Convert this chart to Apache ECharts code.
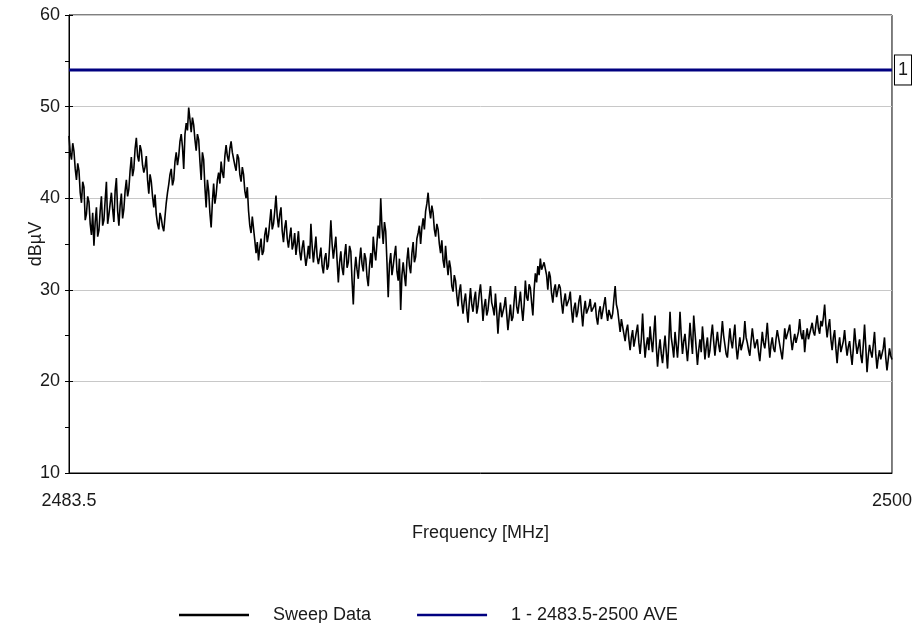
<!DOCTYPE html>
<html>
<head>
<meta charset="utf-8">
<script src="https://cdn.jsdelivr.net/npm/echarts@6/dist/echarts.min.js"></script>
<style>
  html, body { margin: 0; padding: 0; background: #fff; }
  #chart { width: 915px; height: 623px; }
</style>
</head>
<body>
<div id="chart"></div>
<script>
// Sweep from 2483.5 MHz to 2500 MHz, one reading every 0.025 MHz
const freqStart = 2483.5;
const freqEnd = 2500;
const freqStep = 0.025;

// Measured level, dBµV
const sweepLevels = [
  46.8, 45.0, 44.2, 46.0, 45.1, 43.2, 42.0, 43.8, 43.0, 40.6, 39.5, 41.8, 41.2, 37.6, 38.3, 40.2, 39.6, 37.2, 36.0, 38.4,
  34.8, 37.4, 39.0, 35.8, 36.5, 38.6, 40.2, 37.0, 37.6, 39.8, 41.8, 37.2, 38.2, 39.4, 40.6, 38.8, 37.4, 40.8, 42.2, 38.6,
  37.0, 39.2, 40.5, 37.8, 38.8, 40.8, 42.0, 40.2, 41.0, 43.0, 44.5, 42.4, 43.2, 45.4, 46.6, 44.6, 44.0, 45.8, 45.2, 43.6,
  42.8, 43.4, 44.6, 42.0, 40.5, 42.6, 41.8, 40.2, 39.0, 40.4, 38.2, 37.2, 36.6, 38.4, 37.8, 36.9, 36.4, 38.0, 39.5, 40.6,
  41.5, 42.6, 43.2, 41.4, 42.0, 44.0, 45.0, 43.6, 44.6, 46.2, 47.0, 45.6, 43.2, 47.0, 48.2, 47.4, 49.9, 48.6, 47.2, 48.8,
  48.0, 46.4, 45.2, 47.0, 46.4, 44.0, 42.0, 45.0, 44.2, 41.2, 39.0, 42.0, 40.8, 38.4, 36.8, 39.6, 41.6, 39.4, 40.4, 42.0,
  42.8, 41.6, 44.0, 42.8, 42.2, 44.6, 45.8, 44.6, 44.0, 45.4, 46.2, 45.0, 44.8, 43.6, 43.0, 44.8, 44.4, 42.6, 41.8, 43.4,
  42.6, 40.8, 40.0, 41.2, 38.6, 37.0, 36.2, 38.0, 37.8, 35.4, 34.0, 35.2, 33.2, 34.6, 35.6, 33.8, 34.2, 36.0, 36.8, 35.2,
  36.0, 37.4, 38.8, 36.6, 37.2, 38.6, 40.3, 38.0, 36.8, 38.2, 39.0, 36.4, 35.2, 36.8, 37.6, 35.6, 34.6, 35.8, 36.8, 34.4,
  35.0, 36.2, 33.8, 35.0, 36.4, 34.2, 33.2, 34.6, 35.4, 33.8, 32.6, 33.6, 34.8, 33.4, 37.2, 34.8, 33.0, 34.4, 35.8, 33.6,
  32.8, 33.6, 34.6, 32.6, 31.8, 33.4, 34.0, 32.2, 32.6, 34.8, 37.6, 35.0, 33.4, 34.6, 35.8, 33.2, 30.8, 33.0, 34.2, 32.4,
  31.6, 33.8, 35.0, 32.4, 33.0, 34.8, 34.2, 31.0, 28.4, 32.0, 33.6, 32.2, 31.2, 33.2, 34.6, 32.8, 32.0, 34.0, 33.4, 31.4,
  30.4, 32.6, 34.0, 32.4, 35.8, 34.2, 33.2, 35.2, 37.0, 35.6, 40.0, 36.8, 35.0, 37.4, 36.4, 33.0, 29.2, 32.8, 34.0, 31.6,
  32.6, 33.8, 34.8, 32.0, 31.0, 33.4, 27.8, 31.6, 33.0, 31.6, 30.4, 33.2, 34.6, 32.6, 31.8, 34.0, 35.2, 33.0, 33.6, 35.6,
  36.2, 37.0, 35.0, 36.8, 37.8, 36.6, 38.6, 39.4, 40.6, 38.8, 37.8, 39.2, 38.4, 36.6, 35.8, 37.2, 36.6, 35.0, 34.0, 35.4,
  33.2, 32.4, 34.8, 33.0, 31.6, 33.2, 32.4, 30.4, 29.8, 31.6, 31.0, 29.4, 28.2, 29.8, 30.6, 28.6, 27.4, 28.8, 29.6, 27.8,
  26.4, 28.6, 30.2, 28.4, 27.6, 29.0, 29.8, 27.4, 28.2, 29.6, 30.6, 28.8, 26.6, 28.2, 29.0, 27.2, 27.8, 29.2, 30.4, 28.6,
  28.0, 27.2, 29.6, 27.6, 25.2, 27.4, 28.6, 27.0, 26.8, 28.2, 29.2, 27.4, 25.6, 27.0, 28.4, 26.6, 27.0, 28.8, 30.4, 28.2,
  27.4, 28.6, 29.8, 28.0, 26.6, 28.4, 31.0, 29.2, 28.8, 30.6, 30.2, 28.6, 27.2, 30.0, 31.8, 30.8, 32.6, 31.6, 33.4, 32.2,
  32.4, 33.0, 33.2, 31.6, 30.0, 32.0, 31.4, 29.6, 28.6, 30.0, 30.6, 29.2, 29.0, 30.6, 30.2, 28.6, 27.4, 28.8, 29.6, 28.2,
  28.0, 29.0, 29.8, 27.8, 26.4, 28.0, 28.6, 27.0, 27.6, 28.8, 29.4, 27.6, 26.0, 27.8, 28.8, 27.4, 27.2, 28.2, 29.0, 27.6,
  27.4, 28.2, 28.6, 27.0, 26.2, 27.6, 28.2, 26.8, 27.0, 28.4, 29.2, 27.6, 26.6, 27.8, 28.0, 26.8, 27.4, 29.0, 30.4, 28.4,
  27.8, 26.6, 25.4, 26.8, 27.0, 25.2, 24.4, 25.6, 26.2, 24.6, 23.4, 24.8, 25.6, 23.8, 24.0, 25.4, 26.2, 24.2, 23.0, 24.6,
  27.4, 24.6, 22.6, 24.0, 24.8, 23.4, 26.0, 24.4, 23.2, 25.2, 27.2, 23.8, 21.6, 23.4, 24.6, 23.0, 22.0, 23.6, 25.0, 23.2,
  21.4, 24.2, 27.6, 24.8, 23.8, 22.6, 25.4, 24.0, 22.6, 24.6, 27.6, 25.0, 23.0, 24.4, 25.2, 23.6, 22.2, 24.0, 26.4, 24.6,
  23.0, 27.2, 25.4, 23.6, 21.8, 23.4, 24.6, 23.2, 26.0, 24.4, 22.4, 23.8, 24.8, 22.6, 23.4, 25.0, 26.2, 24.4, 22.8, 24.2,
  25.4, 24.0, 23.2, 24.8, 26.6, 25.0, 24.0, 23.0, 22.6, 24.2, 25.8, 24.4, 23.6, 25.0, 26.2, 23.8, 22.4, 23.6, 24.8, 23.4,
  23.2, 24.6, 26.6, 24.8, 24.2, 23.4, 22.8, 24.4, 25.8, 24.6, 23.6, 24.2, 24.6, 23.2, 22.2, 23.8, 25.4, 24.2, 23.6, 24.8,
  26.4, 24.4, 22.6, 24.0, 24.8, 23.6, 23.2, 24.6, 25.6, 24.8, 24.0, 23.2, 22.4, 24.0, 25.8, 24.6, 24.4, 25.6, 26.2, 24.6,
  23.4, 24.4, 25.2, 24.2, 24.0, 25.4, 26.8, 25.2, 24.6, 25.6, 23.2, 24.8, 25.8, 24.6, 24.4, 25.8, 26.4, 25.4, 25.0, 26.2,
  27.2, 25.8, 25.2, 26.6, 26.0, 27.0, 28.4, 26.2, 24.8, 26.0, 26.8, 24.6, 23.4, 24.8, 25.6, 23.6, 22.0, 23.8, 24.8, 23.2,
  23.0, 24.4, 25.6, 24.0, 22.8, 23.8, 24.4, 23.0, 21.8, 23.6, 25.8, 24.2, 23.0, 23.8, 24.6, 22.8, 22.0, 24.0, 26.2, 23.8,
  21.0, 22.8, 24.0, 23.2, 22.6, 24.0, 25.4, 23.0, 21.4, 22.6, 23.4, 22.4, 22.2, 23.6, 24.8, 22.6, 21.2, 22.4, 23.6, 22.8,
  22.4
];

// Average limit for the band
const limitLevel = 54;
const limitTag = '1';

// Axis settings
const yMin = 10, yMax = 60, yStep = 10;
const xTickLabels = [freqStart, freqEnd];

const seriesNames = ['Sweep Data', '1 - 2483.5-2500 AVE'];

const sweepData = sweepLevels.map((v, i) => [+(freqStart + i * freqStep).toFixed(3), v]);
const limitData = [[freqStart, limitLevel], [freqEnd, limitLevel]];

const font = '"Liberation Sans", Arial, sans-serif';
const fontSize = 18;
const textColor = '#1a1a1a';

const chart = echarts.init(document.getElementById('chart'), null, { renderer: 'canvas' });

chart.setOption({
  animation: false,
  backgroundColor: '#fff',
  textStyle: { fontFamily: font, fontSize: fontSize, color: textColor },
  grid: {
    left: 69, right: 22, top: 15, bottom: 150,
    show: true, borderColor: '#000', borderWidth: 1, backgroundColor: 'transparent'
  },
  legend: {
    top: 601,
    left: 174,
    itemWidth: 70,
    itemHeight: 2.5,
    itemGap: 46,
    textStyle: { fontFamily: font, fontSize: fontSize, color: textColor, padding: [0, 0, 0, 19] },
    data: [
      { name: seriesNames[0], icon: 'rect', itemStyle: { color: '#000' } },
      { name: seriesNames[1], icon: 'rect', itemStyle: { color: '#000080' } }
    ]
  },
  xAxis: {
    type: 'value',
    min: freqStart,
    max: freqEnd,
    name: 'Frequency [MHz]',
    nameLocation: 'middle',
    nameGap: 51,
    nameTextStyle: { fontFamily: font, fontSize: fontSize, color: textColor },
    axisLine: { lineStyle: { color: '#000', width: 1 } },
    axisTick: { show: false },
    splitLine: { show: false },
    axisLabel: {
      customValues: xTickLabels,
      margin: 19,
      fontFamily: font, fontSize: fontSize, color: textColor,
      formatter: v => String(v)
    }
  },
  yAxis: [
    {
      type: 'value',
      min: yMin, max: yMax, interval: yStep,
      name: 'dBµV',
      nameLocation: 'middle',
      nameGap: 24,
      nameMoveOverlap: false,
      nameTextStyle: { fontFamily: font, fontSize: fontSize, color: textColor },
      axisLine: { show: true, lineStyle: { color: '#000', width: 1 } },
      axisTick: { show: true, length: 4, lineStyle: { color: '#000' } },
      minorTick: { show: true, splitNumber: 2, length: 4, lineStyle: { color: '#000' } },
      axisLabel: { margin: 9, fontFamily: font, fontSize: fontSize, color: textColor },
      splitLine: { show: true, lineStyle: { color: '#c8c8c8', width: 1 } }
    },
    {
      // tick marks on the inner side of the same axis line
      type: 'value',
      position: 'left',
      min: yMin, max: yMax, interval: yStep,
      axisLine: { show: false },
      axisTick: { show: true, inside: true, length: 4, lineStyle: { color: '#000' } },
      minorTick: { show: false },
      axisLabel: { show: false },
      splitLine: { show: false }
    }
  ],
  series: [
    {
      name: seriesNames[0],
      type: 'line',
      data: sweepData,
      showSymbol: false,
      symbol: 'none',
      lineStyle: { color: '#000', width: 1.6 },
      itemStyle: { color: '#000' },
      z: 3
    },
    {
      name: seriesNames[1],
      type: 'line',
      data: limitData,
      showSymbol: false,
      symbol: 'none',
      lineStyle: { color: '#000080', width: 3 },
      itemStyle: { color: '#000080' },
      z: 2,
      endLabel: {
        show: true,
        formatter: () => limitTag,
        distance: 3,
        fontFamily: font, fontSize: fontSize, color: textColor,
        backgroundColor: '#fff',
        borderColor: '#000',
        borderWidth: 1,
        padding: [6, 3, 5, 3]
      }
    }
  ]
});
</script>
</body>
</html>
